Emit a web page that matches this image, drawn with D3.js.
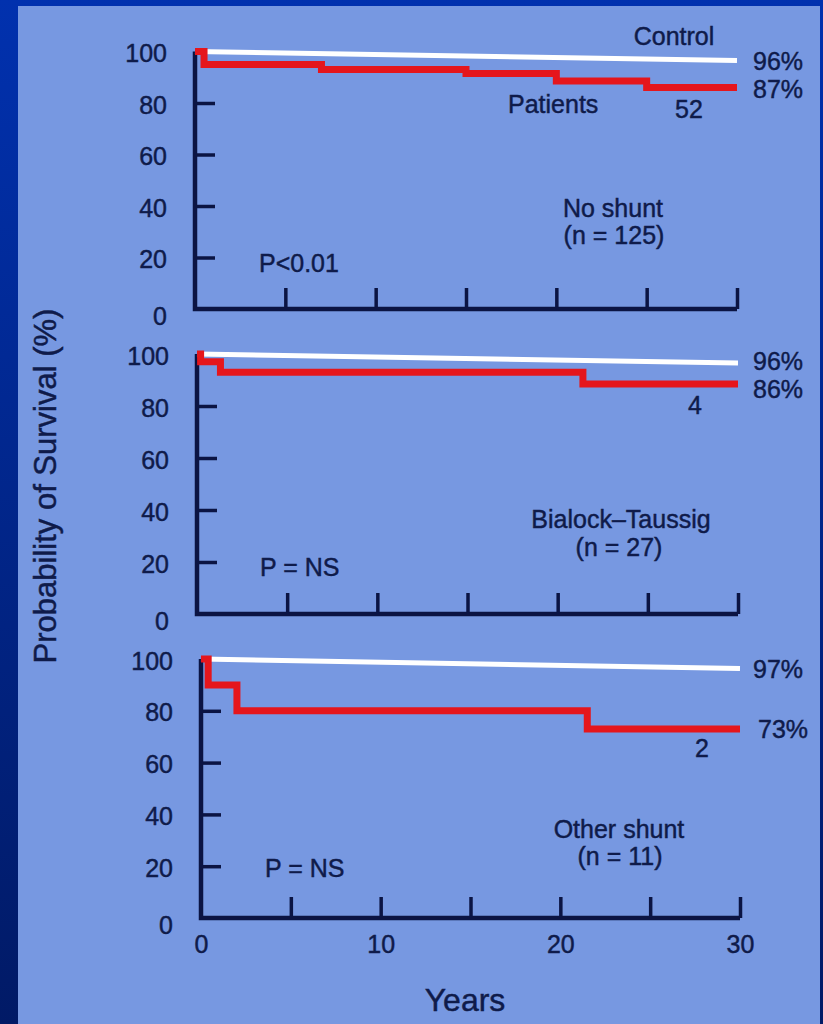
<!DOCTYPE html>
<html>
<head>
<meta charset="utf-8">
<script src="https://cdn.jsdelivr.net/npm/d3@7/dist/d3.min.js"></script>
<style>
  html, body { margin: 0; padding: 0; }
  body { width: 823px; height: 1024px; overflow: hidden; background: #011f80; }
  svg { display: block; }
  text { font-family: "Liberation Sans", Arial, Helvetica, sans-serif; fill: #0f1b4a; stroke: #0f1b4a; stroke-width: 0.45px; }
</style>
</head>
<body>
<svg id="chart" width="823" height="1024"></svg>
<script>
// ---- data ----
const xTickValues = [5, 10, 15, 20, 25, 30];
const xTickLabels = [0, 10, 20, 30];
const yTickValues = [20, 40, 60, 80];
const yTickLabels = [0, 20, 40, 60, 80, 100];

const groupNames = ["No shunt", "Bialock\u2013Taussig", "Other shunt"];
const groupN = ["(n = 125)", "(n = 27)", "(n = 11)"];
const pValues = ["P<0.01", "P = NS", "P = NS"];
const controlFinal = ["96%", "96%", "97%"];
const patientFinal = ["87%", "86%", "73%"];
const atRisk = ["52", "4", "2"];

const controlNoShunt = [[0, 100], [30, 96.5]];
const patientsNoShunt = [[0, 100], [0.5, 95], [7, 93], [15, 91.5], [20, 88.5], [25, 86], [30, 86]];
const controlBT = [[0, 100], [30, 96.5]];
const patientsBT = [[0, 100], [0.2, 97], [1.3, 93], [21.4, 88.5], [30, 88.5]];
const controlOther = [[0, 100], [30, 96.3]];
const patientsOther = [[0, 100], [0.4, 90], [2, 80], [21.5, 73], [30, 73]];

const controlSeries = [controlNoShunt, controlBT, controlOther];
const patientSeries = [patientsNoShunt, patientsBT, patientsOther];

// ---- layout ----
const panels = [
  { xl: 195, xr: 737, y0: 309, y100: 51.5 },
  { xl: 197, xr: 738, y0: 614, y100: 354 },
  { xl: 201, xr: 740, y0: 918, y100: 659 }
];

const FS = 25;
const svg = d3.select("#chart");
const defs = svg.append("defs");
const grad = defs.append("linearGradient").attr("id", "bg").attr("x1", 0).attr("y1", 0).attr("x2", 0).attr("y2", 1);
grad.append("stop").attr("offset", "0%").attr("stop-color", "#0131ae");
grad.append("stop").attr("offset", "100%").attr("stop-color", "#011a66");
svg.append("rect").attr("width", 823).attr("height", 1024).attr("fill", "url(#bg)");
svg.append("rect").attr("x", 18).attr("y", 6).attr("width", 802).attr("height", 1018).attr("fill", "#7798e1");

const axisColor = "#0b1443";

panels.forEach((p, i) => {
  const x = d3.scaleLinear().domain([0, 30]).range([p.xl, p.xr]);
  const y = d3.scaleLinear().domain([0, 100]).range([p.y0, p.y100]);
  const g = svg.append("g");

  // y tick marks (inward)
  const yTicksG = g.append("g").attr("transform", `translate(${p.xl},0)`)
    .call(d3.axisRight(y).tickValues(yTickValues).tickSize(20).tickFormat(""));
  yTicksG.select(".domain").remove();
  yTicksG.selectAll("line").attr("stroke", axisColor).attr("stroke-width", 3.5);

  // y tick labels
  const yLab = g.append("g").attr("transform", `translate(${p.xl},0)`)
    .call(d3.axisLeft(y).tickValues(yTickLabels).tickSize(0).tickPadding(28).tickFormat(d3.format("d")));
  yLab.select(".domain").remove();
  yLab.selectAll("text").attr("font-size", FS).attr("font-family", "Liberation Sans, Arial, sans-serif")
    .attr("fill", "#0f1b4a").attr("dy", d => d === 0 ? "0.6em" : "0.4em");

  // x tick marks (inward)
  const xTicksG = g.append("g").attr("transform", `translate(0,${p.y0})`)
    .call(d3.axisTop(x).tickValues(xTickValues).tickSize(21).tickFormat(""));
  xTicksG.select(".domain").remove();
  xTicksG.selectAll("line").attr("stroke", axisColor).attr("stroke-width", 3.5);

  // axis lines
  g.append("path")
    .attr("d", d3.line()([[x(0), y(100)], [x(0), y(0)], [x(30), y(0)]]))
    .attr("fill", "none").attr("stroke", axisColor).attr("stroke-width", 4.5)
    .attr("stroke-linejoin", "miter");

  // x tick labels only on the bottom panel
  if (i === panels.length - 1) {
    const xLab = g.append("g").attr("transform", `translate(0,${p.y0})`)
      .call(d3.axisBottom(x).tickValues(xTickLabels).tickSize(0).tickPadding(17).tickFormat(d3.format("d")));
    xLab.select(".domain").remove();
    xLab.selectAll("text").attr("font-size", FS).attr("font-family", "Liberation Sans, Arial, sans-serif")
      .attr("fill", "#0f1b4a");
  }

  // control line
  g.append("path")
    .attr("d", d3.line().x(d => x(d[0])).y(d => y(d[1]))(controlSeries[i]))
    .attr("fill", "none").attr("stroke", "#ffffff").attr("stroke-width", 5);

  // patients step line
  g.append("path")
    .attr("d", d3.line().curve(d3.curveStepAfter).x(d => x(d[0])).y(d => y(d[1]))(patientSeries[i]))
    .attr("fill", "none").attr("stroke", "#e5161c").attr("stroke-width", 7);

  // end labels
  const cEnd = controlSeries[i][controlSeries[i].length - 1];
  const pEnd = patientSeries[i][patientSeries[i].length - 1];
  const labelOffsets = [
    { c: 9, pt: 10, risk: 30 },
    { c: 7, pt: 14, risk: 30 },
    { c: 9, pt: 9, risk: 28 }
  ][i];
  g.append("text").attr("x", 753).attr("y", y(cEnd[1]) + labelOffsets.c)
    .attr("font-size", FS).text(controlFinal[i]);
  g.append("text").attr("x", 753 + (i === 2 ? 5 : 0)).attr("y", y(pEnd[1]) + labelOffsets.pt)
    .attr("font-size", FS).text(patientFinal[i]);
  g.append("text").attr("x", [689, 695, 702][i]).attr("y", y(pEnd[1]) + labelOffsets.risk)
    .attr("text-anchor", "middle").attr("font-size", FS).text(atRisk[i]);

  // group name
  g.append("text").attr("x", [613, 621, 619][i]).attr("y", [217, 528, 838][i])
    .attr("text-anchor", "middle").attr("font-size", FS).text(groupNames[i]);
  g.append("text").attr("x", [614, 619, 620][i]).attr("y", [244, 556, 865][i])
    .attr("text-anchor", "middle").attr("font-size", FS).text(groupN[i]);

  // p-value
  g.append("text").attr("x", [259, 260, 265][i]).attr("y", [272, 576, 877][i])
    .attr("font-size", FS).text(pValues[i]);
});

// series labels on the top panel
svg.append("text").attr("x", 674).attr("y", 45).attr("text-anchor", "middle")
  .attr("font-size", FS).text("Control");
svg.append("text").attr("x", 508).attr("y", 113)
  .attr("font-size", FS).text("Patients");

// axis titles
svg.append("text").attr("transform", "translate(56,486) rotate(-90)")
  .attr("text-anchor", "middle").attr("font-size", 31).text("Probability of Survival (%)");
svg.append("text").attr("x", 465).attr("y", 1011).attr("text-anchor", "middle")
  .attr("font-size", 32).text("Years");
</script>
</body>
</html>
